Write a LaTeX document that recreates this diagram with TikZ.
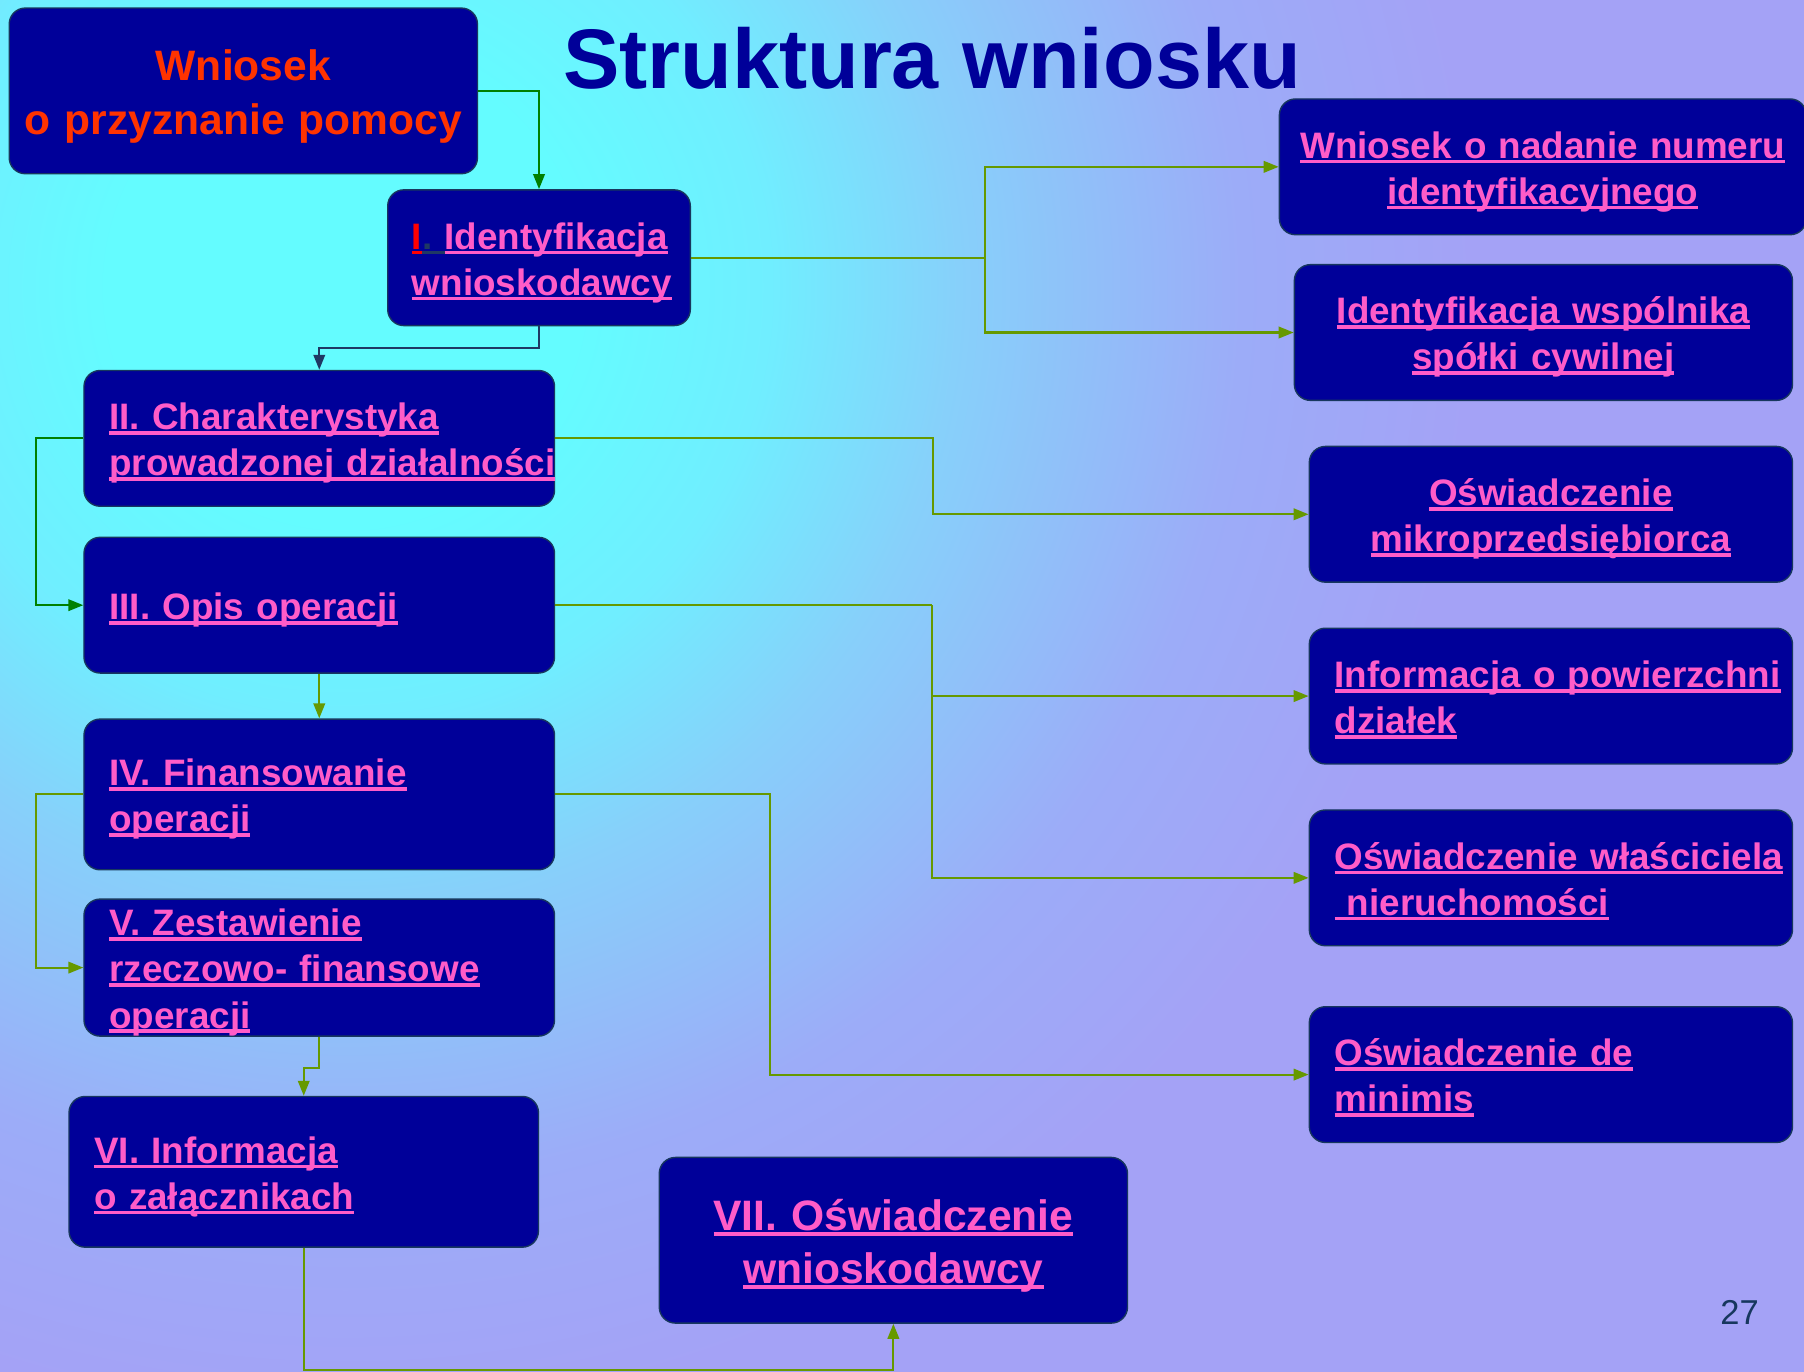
\documentclass[tikz,border=0pt]{standalone}
\usepackage{fontspec}
\setmainfont{Liberation Sans}
\usetikzlibrary{arrows.meta,shadings}
\definecolor{boxfill}{HTML}{000099}
\definecolor{boxline}{HTML}{17375E}
\definecolor{pinktxt}{HTML}{FF5CC8}
\definecolor{orangetxt}{HTML}{FF3300}
\definecolor{titlec}{HTML}{000099}
\definecolor{greenl}{HTML}{008000}
\definecolor{olivel}{HTML}{669900}
\definecolor{darkl}{HTML}{1F3864}
\definecolor{numc}{HTML}{17375E}
\definecolor{redI}{HTML}{FF0000}
\definecolor{bgc0}{RGB}{100,252,255}
\definecolor{bgc1}{RGB}{112,238,255}
\definecolor{bgc2}{RGB}{135,208,250}
\definecolor{bgc3}{RGB}{156,172,248}
\definecolor{bgc4}{RGB}{164,162,246}
\pgfdeclareradialshading{bgrad}{\pgfpoint{0bp}{0bp}}{color(0bp)=(bgc0); color(3.125bp)=(bgc0); color(5.625bp)=(bgc1); color(8.125bp)=(bgc2); color(11.875bp)=(bgc3); color(15bp)=(bgc4); color(50bp)=(bgc4)}
\newsavebox\ulbox
\newcommand\mystrut{\rule[-0.22em]{0pt}{1.22em}}
\newcommand\myul[1]{\leavevmode\mystrut\sbox\ulbox{#1}\rlap{\rule[-0.14em]{\wd\ulbox}{0.1em}}\usebox\ulbox}
\begin{document}
\begin{tikzpicture}[x=1bp,y=-1bp,
  box/.style={draw=boxline, line width=1.2bp, fill=boxfill, rounded corners=14bp,
    inner xsep=22bp, inner ysep=0pt, text=pinktxt,
    font=\fontsize{32bp}{39bp}\selectfont\bfseries},
  lbox/.style={box, align=left},
  cbox/.style={box, align=center, inner xsep=5bp},
  bigtxt/.style={font=\fontsize{37bp}{45bp}\selectfont\bfseries},
  conn/.style={line width=1.8bp, -{Triangle[length=13bp,width=10bp]}},
  plain/.style={line width=1.8bp}]
\useasboundingbox (0,0) rectangle (1568,1192);
\begin{scope}
\clip (0,0) rectangle (1568,1192);
\fill[bgc4] (0,0) rectangle (1568,1192);
\shade[shading=bgrad] (300,250) circle (1640);
\end{scope}

\node[text=titlec, font=\fontsize{73.5bp}{80bp}\selectfont\bfseries, anchor=base, inner sep=0pt] (title) at (810,77) {Struktura wniosku};

\node[cbox, bigtxt, text=orangetxt, minimum width=407bp, minimum height=144bp, text width=397bp] (A) at (211.5,79) {\mystrut Wniosek\\\mystrut o przyznanie pomocy};

\node[lbox, inner xsep=21bp, minimum width=263bp, minimum height=118bp, text width=221bp] (I) at (468.5,224) {{\color{redI}\myul{I}}{\color{darkl}\myul{.\ }}\myul{Identyfikacja}\\\myul{wnioskodawcy}};

\node[lbox, minimum width=409bp, minimum height=118bp, text width=365bp] (II) at (277.5,381) {\myul{II. Charakterystyka}\\\myul{prowadzonej działalności}};
\node[lbox, minimum width=409bp, minimum height=118bp, text width=365bp] (III) at (277.5,526) {\myul{III. Opis operacji}};
\node[lbox, minimum width=409bp, minimum height=131bp, text width=365bp] (IV) at (277.5,690.5) {\myul{IV. Finansowanie}\\\myul{operacji}};
\node[lbox, minimum width=409bp, minimum height=118bp, text width=365bp] (V) at (277.5,841) {\myul{V. Zestawienie}\\\myul{rzeczowo- finansowe}\\\myul{operacji}};
\node[lbox, minimum width=408bp, minimum height=131bp, text width=364bp] (VI) at (264,1018.5) {\myul{VI. Informacja}\\\myul{o załącznikach}};
\node[cbox, bigtxt, minimum width=407bp, minimum height=144bp, text width=397bp] (VII) at (776.5,1078) {\myul{VII. Oświadczenie}\\\myul{wnioskodawcy}};

\node[cbox, minimum width=458bp, minimum height=118bp, text width=448bp] (R1) at (1341,145) {\myul{Wniosek o nadanie numeru}\\\myul{identyfikacyjnego}};
\node[cbox, minimum width=433bp, minimum height=118bp, text width=423bp] (R2) at (1341.5,289) {\myul{Identyfikacja wspólnika}\\\myul{spółki cywilnej}};
\node[cbox, minimum width=420bp, minimum height=118bp, text width=410bp] (R3) at (1348,447) {\myul{Oświadczenie}\\\myul{mikroprzedsiębiorca}};
\node[lbox, minimum width=420bp, minimum height=118bp, text width=376bp] (R4) at (1348,605) {\myul{Informacja o powierzchni}\\\myul{działek}};
\node[lbox, minimum width=420bp, minimum height=118bp, text width=376bp] (R5) at (1348,763) {\myul{Oświadczenie właściciela}\\\myul{\ nieruchomości}};
\node[lbox, minimum width=420bp, minimum height=118bp, text width=376bp] (R6) at (1348,934) {\myul{Oświadczenie de}\\\myul{minimis}};

\node[text=numc, font=\fontsize{30bp}{34bp}\selectfont, inner sep=0pt] (num) at (1512,1141) {27};

% connectors
\draw[conn, greenl] (A.east) -| (I.north);
\draw[conn, darkl] (I.south) -- ++(0,19) -| (II.north);
\coordinate (k1) at (856,224);
\draw[plain, olivel] (I.east) -- (k1);
\draw[conn, olivel] (k1) |- (R1.west);
\draw[conn, olivel] (k1) |- (R2.west);
\draw[conn, greenl] (II.west) -- ++(-41,0) |- (III.west);
\draw[conn, olivel] (II.east) -- ++(328,0) |- (R3.west);
\draw[conn, olivel] (III.south) -- (IV.north);
\coordinate (k2) at (810,526);
\draw[plain, olivel] (III.east) -- (k2);
\draw[conn, olivel] (k2) |- (R4.west);
\draw[conn, olivel] (k2) |- (R5.west);
\draw[conn, olivel] (IV.west) -- ++(-41,0) |- (V.west);
\draw[conn, olivel] (IV.east) -- ++(187,0) |- (R6.west);
\draw[conn, olivel] (V.south) -- ++(0,27) -| (VI.north);
\draw[conn, olivel] (VI.south) -- ++(0,106) -| (VII.south);
\end{tikzpicture}
\end{document}
